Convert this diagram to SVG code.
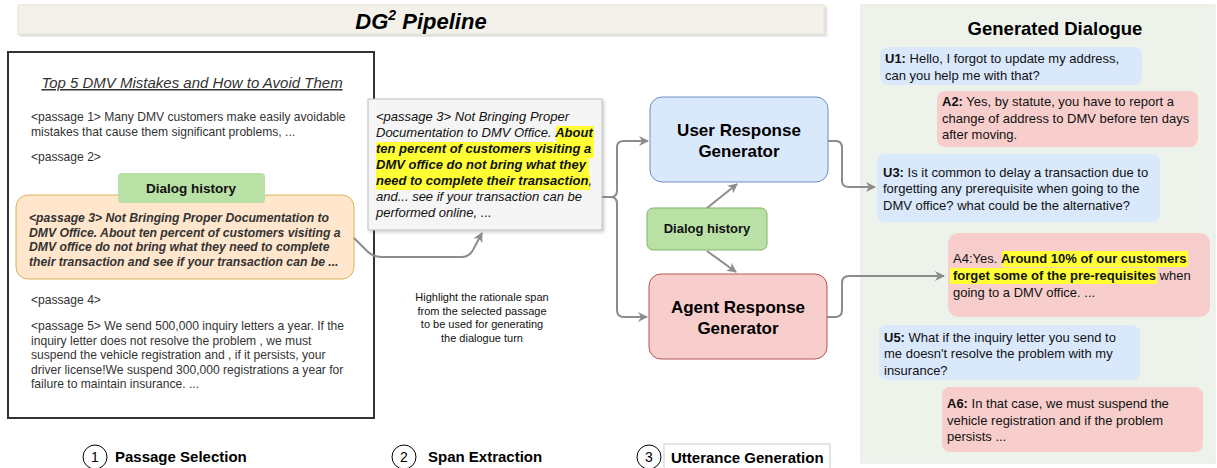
<svg xmlns="http://www.w3.org/2000/svg" width="1217" height="468" viewBox="0 0 1217 468">
<defs>
<style>
text{font-family:"Liberation Sans",Arial,sans-serif;}
.p{font-size:12.1px;fill:#333;}
.ob{font-size:12.2px;font-weight:bold;font-style:italic;fill:#333;}
.si{font-size:13px;font-style:italic;fill:#111;}
.hb{font-weight:bold;}
.hl{fill:#ffff33;}
.gen{font-size:17px;font-weight:bold;fill:#000;text-anchor:middle;}
.d{font-size:13px;fill:#111;}
.conn{fill:none;stroke:#8c8c8c;stroke-width:2;}
.lbl{font-size:15px;font-weight:bold;fill:#000;}
.num{font-size:14px;fill:#000;text-anchor:middle;}
.circ{fill:#fff;stroke:#000;stroke-width:1;}
.ub{fill:#dae8fc;}
.ab{fill:#f8cecc;}
</style>
<marker id="arr" viewBox="0 0 10 10" refX="9" refY="5" markerWidth="5" markerHeight="5" orient="auto" markerUnits="strokeWidth">
<path d="M0,0 L10,5 L0,10 L3,5 Z" fill="#8c8c8c"/>
</marker>
<filter id="sh" x="-5%" y="-5%" width="115%" height="115%">
<feDropShadow dx="2" dy="2" stdDeviation="1.5" flood-color="#000" flood-opacity="0.18"/>
</filter>
</defs>
<rect width="1217" height="468" fill="#fff"/>

<g id="title">
<rect x="18" y="5" width="806" height="29" fill="#f4f1ea" stroke="#e6e1d3" stroke-width="1" filter="url(#sh)"/>
<text x="421" y="29" font-size="22" font-weight="bold" font-style="italic" text-anchor="middle" fill="#000">DG<tspan font-size="14" dy="-9">2</tspan><tspan dy="9"> Pipeline</tspan></text>
</g>

<g id="passages">
<rect x="8" y="52" width="366" height="366" fill="#fff" stroke="#333" stroke-width="2"/>
<text x="192" y="88" font-size="15" font-style="italic" fill="#333" text-anchor="middle" text-decoration="underline">Top 5 DMV Mistakes and How to Avoid Them</text>
<text class="p" x="31" y="121">&lt;passage 1&gt; Many DMV customers make easily avoidable</text>
<text class="p" x="31" y="136">mistakes that cause them significant problems, ...</text>
<text class="p" x="31" y="161">&lt;passage 2&gt;</text>
<text class="p" x="31" y="304">&lt;passage 4&gt;</text>
<text class="p" x="31" y="330">&lt;passage 5&gt; We send 500,000 inquiry letters a year. If the</text>
<text class="p" x="31" y="345">inquiry letter does not resolve the problem , we must</text>
<text class="p" x="31" y="359">suspend the vehicle registration and , if it persists, your</text>
<text class="p" x="31" y="374">driver license!We suspend 300,000 registrations a year for</text>
<text class="p" x="31" y="388">failure to maintain insurance. ...</text>
</g>

<g id="passage3">
<rect x="16" y="195" width="338" height="84" rx="12" fill="#ffe6cc" stroke="#d6b656" stroke-width="1"/>
<text class="ob" x="29" y="222">&lt;passage 3&gt; Not Bringing Proper Documentation to</text>
<text class="ob" x="29" y="236.5">DMV Office. About ten percent of customers visiting a</text>
<text class="ob" x="29" y="251">DMV office do not bring what they need to complete</text>
<text class="ob" x="29" y="265.5">their transaction and see if your transaction can be ...</text>
</g>

<g id="dialog-history-1">
<rect x="118" y="173" width="147" height="30" rx="4" fill="#b9e0a5"/>
<text x="191" y="193" font-size="13.5" font-weight="bold" text-anchor="middle" fill="#111">Dialog history</text>
</g>

<g id="span">
<rect x="368" y="99" width="234" height="131" fill="#f5f5f5" stroke="#bdbdbd" stroke-width="1" filter="url(#sh)"/>
<rect class="hl" x="556" y="126" width="38" height="16"/>
<rect class="hl" x="376" y="142" width="218" height="16"/>
<rect class="hl" x="376" y="158" width="213" height="16"/>
<rect class="hl" x="376" y="174" width="214" height="16"/>
<text class="si" x="376" y="121">&lt;passage 3&gt;  Not Bringing Proper</text>
<text class="si" x="376" y="137">Documentation to DMV Office. <tspan class="hb">About</tspan></text>
<text class="si hb" x="376" y="153">ten percent of customers visiting a</text>
<text class="si hb" x="376" y="169">DMV office do not bring what they</text>
<text class="si" x="376" y="185"><tspan class="hb">need to complete their transaction</tspan>,</text>
<text class="si" x="376" y="201">and... see if your transaction can be</text>
<text class="si" x="376" y="217">performed online, ...</text>
</g>

<g id="span-note">
<text x="482" y="301" font-size="11" text-anchor="middle" fill="#111">Highlight the rationale span</text>
<text x="482" y="314.5" font-size="11" text-anchor="middle" fill="#111">from the selected passage</text>
<text x="482" y="328" font-size="11" text-anchor="middle" fill="#111">to be used for generating</text>
<text x="482" y="341.5" font-size="11" text-anchor="middle" fill="#111">the dialogue turn</text>
</g>

<g id="user-gen">
<rect x="650" y="97" width="178" height="85" rx="12" fill="#dae8fc" stroke="#6c8ebf" stroke-width="1"/>
<text class="gen" x="739" y="136">User Response</text>
<text class="gen" x="739" y="157">Generator</text>
</g>

<g id="dialog-history-2">
<rect x="647" y="208" width="120" height="42" rx="6" fill="#b9e0a5" stroke="#82b366" stroke-width="1"/>
<text x="707" y="233" font-size="13" font-weight="bold" text-anchor="middle" fill="#111">Dialog history</text>
</g>

<g id="agent-gen">
<rect x="649" y="274" width="178" height="85" rx="12" fill="#f8cecc" stroke="#b85450" stroke-width="1"/>
<text class="gen" x="738" y="313">Agent Response</text>
<text class="gen" x="738" y="334">Generator</text>
</g>

<g id="dialogue">
<rect x="861" y="5" width="354" height="458" fill="#edf3eb" stroke="#e2e8df" stroke-width="1"/>
<text x="1055" y="35" font-size="18.5" font-weight="bold" text-anchor="middle" fill="#000">Generated Dialogue</text>

<rect class="ub" x="880" y="47" width="262" height="38" rx="8"/>
<text class="d" x="885" y="63"><tspan class="hb">U1:</tspan> Hello, I forgot to update my address,</text>
<text class="d" x="885" y="80">can you help me with that?</text>

<rect class="ab" x="937" y="91" width="261" height="56" rx="8"/>
<text class="d" x="942" y="106"><tspan class="hb">A2:</tspan> Yes, by statute, you have to report a</text>
<text class="d" x="942" y="122.5">change of address to DMV before ten days</text>
<text class="d" x="942" y="139">after moving.</text>

<rect class="ub" x="877" y="154" width="283" height="68" rx="8"/>
<text class="d" x="883" y="176.5"><tspan class="hb">U3:</tspan> Is it common to delay a transaction due to</text>
<text class="d" x="883" y="193">forgetting any prerequisite when going to the</text>
<text class="d" x="883" y="209.5">DMV office? what could be the alternative?</text>

<rect class="ab" x="948" y="233" width="262" height="84" rx="10"/>
<rect class="hl" x="1002" y="251" width="186" height="16"/>
<rect class="hl" x="950" y="268" width="207" height="16"/>
<text class="d" x="953" y="263">A4:Yes. <tspan class="hb">Around 10% of our customers</tspan></text>
<text class="d" x="953" y="280"><tspan class="hb">forget some of the pre-requisites</tspan> when</text>
<text class="d" x="953" y="297">going to a DMV office. ...</text>

<rect class="ub" x="879" y="325" width="261" height="55" rx="8"/>
<text class="d" x="884" y="341.5"><tspan class="hb">U5:</tspan> What if the inquiry letter you send to</text>
<text class="d" x="884" y="358">me doesn't resolve the problem with my</text>
<text class="d" x="884" y="374.5">insurance?</text>

<rect class="ab" x="942" y="387" width="261" height="65" rx="8"/>
<text class="d" x="947" y="408"><tspan class="hb">A6:</tspan> In that case, we must suspend the</text>
<text class="d" x="947" y="424.5">vehicle registration and if the problem</text>
<text class="d" x="947" y="441">persists ...</text>
</g>

<g id="connectors">
<path class="conn" d="M354,238 L367,251 Q373,257 382,257 L462,257 Q469,257 473,250 L482,233" marker-end="url(#arr)"/>
<path class="conn" d="M602,197 L611,197 Q617,197 617,190 L617,147 Q617,141 624,141 L648,141" marker-end="url(#arr)"/>
<path class="conn" d="M611,197 Q617,197 617,204 L617,310 Q617,317 624,317 L647,317" marker-end="url(#arr)"/>
<path class="conn" d="M707,208 L737,184" marker-end="url(#arr)"/>
<path class="conn" d="M707,251 L736,272" marker-end="url(#arr)"/>
<path class="conn" d="M828,141 L836,141 Q842,141 842,148 L842,181 Q842,187 849,187 L875,187" marker-end="url(#arr)"/>
<path class="conn" d="M827,317 L835,317 Q842,317 842,310 L842,283 Q842,276 849,276 L944,276" marker-end="url(#arr)"/>
</g>

<g id="steps">
<circle class="circ" cx="95" cy="457" r="12"/>
<text class="num" x="95" y="462">1</text>
<text class="lbl" x="115" y="462">Passage Selection</text>
<circle class="circ" cx="404" cy="457" r="12"/>
<text class="num" x="404" y="462">2</text>
<text class="lbl" x="428" y="462">Span Extraction</text>
<circle class="circ" cx="649" cy="457" r="12"/>
<text class="num" x="649" y="462">3</text>
<rect x="664" y="444" width="166" height="26" fill="#fff" stroke="#ccc" stroke-width="1"/>
<text class="lbl" x="671" y="463">Utterance Generation</text>
</g>
</svg>
